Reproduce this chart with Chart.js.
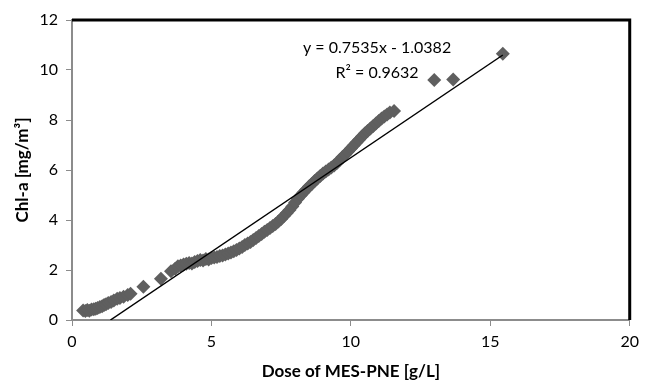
<!DOCTYPE html>
<html>
<head>
<meta charset="utf-8">
<script src="https://cdn.jsdelivr.net/npm/chart.js@4.4.1/dist/chart.umd.min.js"></script>
<style>
html,body{margin:0;padding:0;background:#fff;}
#wrap{width:645px;height:382px;}
</style>
</head>
<body>
<div id="wrap"><canvas id="c" width="645" height="382"></canvas></div>
<script>
// Data
const doseX = [0.40,0.48,0.55,0.62,0.70,0.78,0.85,0.92,1.00,1.08,1.15,1.22,1.30,1.40,1.50,1.62,1.72,1.85,2.00,2.10,
  2.56,3.19,3.55,3.70,3.80,3.90,4.00,4.10,4.20,4.30,4.40,4.50,4.60,4.70,4.80,4.90,5.00,5.10,5.20,5.30,5.40,5.50,
  5.60,5.70,5.80,5.90,6.00,6.10,6.20,6.30,6.40,6.50,6.60,6.70,6.80,6.90,7.00,7.10,7.20,7.30,7.40,7.50,7.60,7.70,
  7.80,7.90,8.00,8.10,8.20,8.30,8.40,8.50,8.60,8.70,8.80,8.90,9.00,9.10,9.20,9.30,9.40,9.50,9.60,9.70,9.80,9.90,
  10.00,10.10,10.20,10.30,10.40,10.50,10.60,10.70,10.80,10.90,11.00,11.10,11.20,11.30,11.40,11.55,12.99,13.67,15.45];
const chlA = [0.38,0.36,0.40,0.37,0.42,0.43,0.45,0.48,0.52,0.55,0.60,0.63,0.68,0.72,0.78,0.85,0.88,0.93,1.00,1.05,
  1.33,1.65,1.95,2.05,2.15,2.18,2.22,2.25,2.28,2.26,2.32,2.36,2.40,2.38,2.44,2.42,2.48,2.50,2.52,2.56,2.58,2.62,
  2.66,2.70,2.75,2.80,2.86,2.92,3.00,3.06,3.12,3.20,3.28,3.36,3.44,3.53,3.60,3.68,3.76,3.84,3.94,4.04,4.16,4.28,
  4.40,4.54,4.70,4.85,4.98,5.10,5.22,5.34,5.44,5.56,5.66,5.76,5.86,5.94,6.02,6.10,6.18,6.28,6.40,6.52,6.62,6.74,
  6.86,6.98,7.10,7.22,7.34,7.46,7.56,7.66,7.76,7.86,7.96,8.06,8.14,8.22,8.30,8.36,9.60,9.62,10.65];
const trendX = [1.378, 15.45];
const trendY = [0.0, 10.60];
const xTicks = [0, 5, 10, 15, 20];
const yTicks = [0, 2, 4, 6, 8, 10, 12];
const equationLines = ["y = 0.7535x - 1.0382", "R\u00b2 = 0.9632"];
const xTitle = "Dose of MES-PNE [g/L]";
const yTitle = "Chl-a [mg/m\u00b3]";

const FONT = "Lato, 'Open Sans', sans-serif";

const framePlugin = {
  id: 'frame',
  afterDatasetsDraw(chart) {
    const {ctx, chartArea: a} = chart;
    ctx.save();
    ctx.strokeStyle = '#000';
    ctx.lineWidth = 3;
    ctx.beginPath();
    ctx.moveTo(a.left, a.top);
    ctx.lineTo(a.right, a.top);
    ctx.lineTo(a.right, a.bottom);
    ctx.stroke();
    // equation text
    ctx.fillStyle = '#000';
    ctx.font = "16px " + FONT;
    ctx.textAlign = 'center';
    ctx.textBaseline = 'middle';
    const cx = a.left + (a.right - a.left) * 0.547;
    ctx.fillText(equationLines[0], cx, a.top + 28);
    ctx.fillText(equationLines[1], cx, a.top + 53);
    ctx.restore();
  }
};

new Chart(document.getElementById('c'), {
  type: 'scatter',
  data: {
    datasets: [
      {
        label: 'Chl-a',
        data: doseX.map((x, i) => ({x: x, y: chlA[i]})),
        pointStyle: 'rectRot',
        pointRadius: 7,
        pointHoverRadius: 7,
        backgroundColor: '#5f5f5f',
        borderColor: '#5f5f5f',
        borderWidth: 0,
        order: 2
      },
      {
        label: 'Linear',
        type: 'line',
        data: trendX.map((x, i) => ({x: x, y: trendY[i]})),
        borderColor: '#000',
        borderWidth: 1.5,
        pointRadius: 0,
        fill: false,
        order: 1
      }
    ]
  },
  options: {
    responsive: false,
    animation: false,
    devicePixelRatio: 1,
    layout: {padding: {left: 12, right: 11, top: 20, bottom: 0}},
    plugins: {legend: {display: false}, tooltip: {enabled: false}},
    scales: {
      x: {
        type: 'linear', min: 0, max: 20,
        afterBuildTicks(s) { s.ticks = xTicks.map(v => ({value: v})); },
        afterFit(s) { s.height = 62; },
        grid: {display: true, drawOnChartArea: false, drawTicks: true, tickLength: 6, color: '#8c8c8c', lineWidth: 1},
        border: {display: true, color: '#8c8c8c', width: 2},
        ticks: {color: '#000', font: {family: FONT, size: 16}, padding: 6, maxRotation: 0},
        title: {display: true, text: xTitle, color: '#000', font: {family: FONT, size: 17, weight: 'bold'}, padding: {top: 1, bottom: 0}}
      },
      y: {
        type: 'linear', min: 0, max: 12,
        afterBuildTicks(s) { s.ticks = yTicks.map(v => ({value: v})); },
        afterFit(s) { s.width = 60; },
        grid: {display: true, drawOnChartArea: false, drawTicks: true, tickLength: 6, color: '#8c8c8c', lineWidth: 1},
        border: {display: true, color: '#8c8c8c', width: 2},
        ticks: {color: '#000', font: {family: FONT, size: 16}, padding: 8},
        title: {display: true, text: yTitle, color: '#000', font: {family: FONT, size: 17, weight: 'bold'}, padding: {top: 0, bottom: 0}}
      }
    }
  },
  plugins: [framePlugin]
});
</script>
</body>
</html>
